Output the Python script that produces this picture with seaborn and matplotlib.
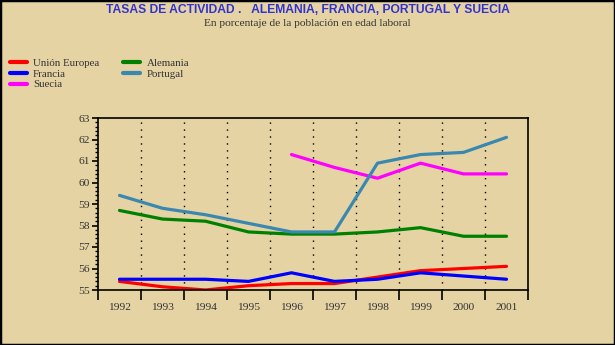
import numpy as np
import pandas as pd
import matplotlib
matplotlib.use("Agg")
import matplotlib.pyplot as plt
import seaborn as sns
from matplotlib.ticker import MultipleLocator, FixedLocator, NullFormatter
from matplotlib.patches import Rectangle

years = ["1992", "1993", "1994", "1995", "1996", "1997", "1998", "1999", "2000", "2001"]
union_europea = [55.4, 55.15, 55.0, 55.2, 55.3, 55.3, 55.6, 55.9, 56.0, 56.1]
francia = [55.5, 55.5, 55.5, 55.4, 55.8, 55.4, 55.5, 55.8, 55.65, 55.5]
suecia = [np.nan, np.nan, np.nan, np.nan, 61.3, 60.7, 60.2, 60.9, 60.4, 60.4]
alemania = [58.7, 58.3, 58.2, 57.7, 57.6, 57.6, 57.7, 57.9, 57.5, 57.5]
portugal = [59.4, 58.8, 58.5, 58.1, 57.7, 57.7, 60.9, 61.3, 61.4, 62.1]

series_names = ["Unión Europea", "Francia", "Suecia", "Alemania", "Portugal"]
series_values = [union_europea, francia, suecia, alemania, portugal]
colors = ["#FF0000", "#0000FF", "#FF00FF", "#008000", "#3A88B0"]

title = "TASAS DE ACTIVIDAD .   ALEMANIA, FRANCIA, PORTUGAL Y SUECIA"
subtitle = "En porcentaje de la población en edad laboral"

rows = []
for name, vals in zip(series_names, series_values):
    for i, v in enumerate(vals):
        rows.append({"idx": i, "valor": v, "serie": name})
df = pd.DataFrame(rows)

bg = "#E5D3A4"
sns.set_theme(style="white")
plt.rcParams["font.family"] = ["Liberation Serif", "DejaVu Serif"]

fig = plt.figure(figsize=(6.15, 3.45), dpi=100, facecolor=bg)
ax = fig.add_axes([98 / 615, 1 - 290 / 345, 430 / 615, 172 / 345])
ax.set_facecolor(bg)

sns.lineplot(data=df, x="idx", y="valor", hue="serie", hue_order=series_names,
             palette=colors, linewidth=2.3, ax=ax, legend=False, estimator=None)

ax.set_xlim(-0.5, len(years) - 0.5)
ax.set_ylim(55, 63)

# category boundaries
bounds = np.arange(len(years) + 1) - 0.5
ax.xaxis.set_major_locator(FixedLocator(bounds))
ax.xaxis.set_major_formatter(NullFormatter())
ax.xaxis.set_minor_locator(FixedLocator(np.arange(len(years))))
ax.set_xticklabels(years, minor=True)
ax.tick_params(axis="x", which="major", direction="out", length=7, width=1.2, color="black", bottom=True)
ax.tick_params(axis="x", which="minor", length=0, labelsize=8.2, labelcolor="#333333", pad=9, bottom=True)
for b in bounds[1:-1]:
    ax.axvline(b, color="black", linestyle=(0, (1, 4)), linewidth=1.0, zorder=0)

ax.yaxis.set_major_locator(MultipleLocator(1))
ax.yaxis.set_minor_locator(MultipleLocator(0.2))
ax.tick_params(axis="y", which="major", direction="out", length=4, width=1.2, color="black",
               labelsize=8.2, labelcolor="#333333", pad=2, left=True)
ax.tick_params(axis="y", which="minor", direction="out", length=2.5, width=1.0, color="black", left=True)

ax.set_xlabel("")
ax.set_ylabel("")
for s in ax.spines.values():
    s.set_color("black")
    s.set_linewidth(1.2)

# legend
handles = [plt.Line2D([], [], color=c, linewidth=3) for c in colors]
fig.legend(handles, series_names, loc="upper left", bbox_to_anchor=(0.0, 0.86), ncol=2,
           frameon=False, fontsize=7.8, handlelength=1.6, handletextpad=0.55,
           columnspacing=2.2, labelspacing=0.12, labelcolor="#333333")

fig.text(0.5, 1 - 10 / 345, title, ha="center", va="center", color="#3333CC",
         fontsize=8.7, fontweight="bold", family=["Liberation Sans", "DejaVu Sans"])
fig.text(0.5, 1 - 24 / 345, subtitle, ha="center", va="center", color="#333333", fontsize=8.2)

fig.patches.append(Rectangle((0, 0), 1, 1, transform=fig.transFigure, fill=False,
                             edgecolor="black", linewidth=2.5))

fig.savefig("out.png", dpi=100, facecolor=bg)
